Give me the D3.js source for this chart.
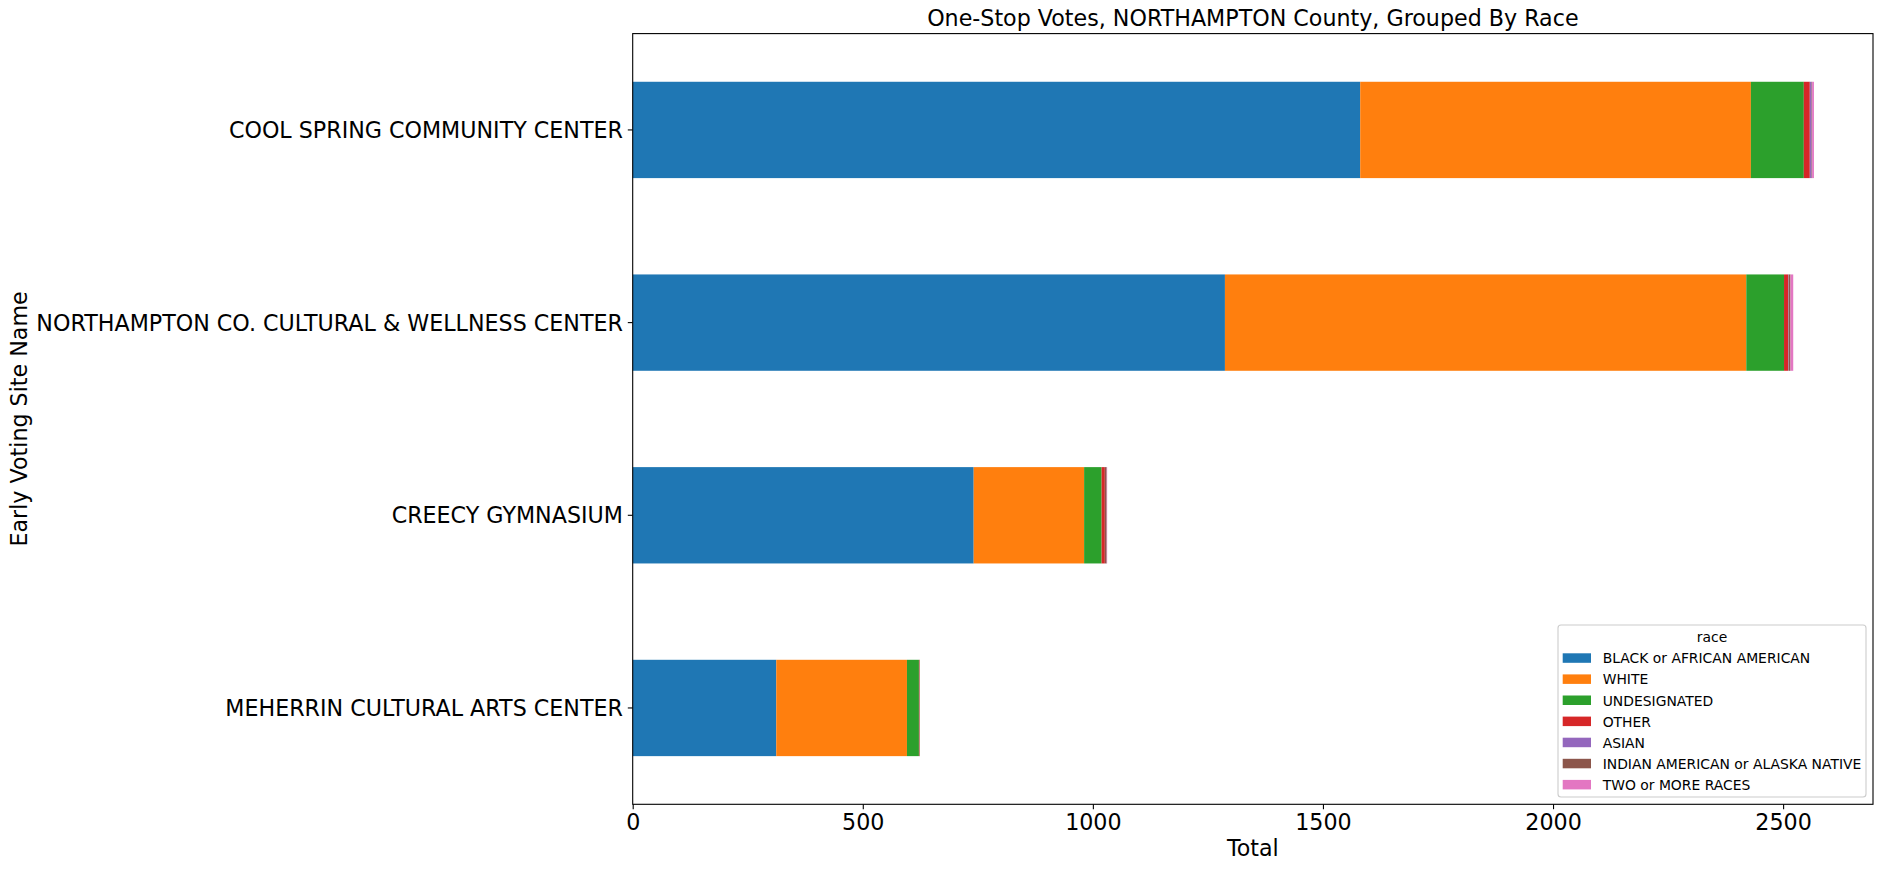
<!DOCTYPE html>
<html>
<head>
<meta charset="utf-8">
<script src="https://cdn.jsdelivr.net/npm/d3@7"></script>
<style>
  html, body { margin: 0; padding: 0; background: #fff; }
  svg { display: block; font-family: "DejaVu Sans", sans-serif; }
</style>
</head>
<body>
<svg id="chart" width="1882" height="869"></svg>
<script>
// ---- Data ----
const sites = [
  "COOL SPRING COMMUNITY CENTER",
  "NORTHAMPTON CO. CULTURAL & WELLNESS CENTER",
  "CREECY GYMNASIUM",
  "MEHERRIN CULTURAL ARTS CENTER"
];
const raceNames = [
  "BLACK or AFRICAN AMERICAN",
  "WHITE",
  "UNDESIGNATED",
  "OTHER",
  "ASIAN",
  "INDIAN AMERICAN or ALASKA NATIVE",
  "TWO or MORE RACES"
];
const blackVotes        = [1581, 1287, 741, 312];
const whiteVotes        = [849, 1133, 240, 284];
const undesignatedVotes = [115, 82, 38, 26];
const otherVotes        = [13, 9, 7, 1];
const asianVotes        = [4, 1, 0, 0];
const indianVotes       = [1, 4, 4, 1];
const twoOrMoreVotes    = [4, 6, 1, 0];
const xTickValues = [0, 500, 1000, 1500, 2000, 2500];

const colors = ["#1f77b4", "#ff7f0e", "#2ca02c", "#d62728", "#9467bd", "#8c564b", "#e377c2"];

const seriesValues = [blackVotes, whiteVotes, undesignatedVotes, otherVotes, asianVotes, indianVotes, twoOrMoreVotes];
const rows = sites.map((s, i) => {
  const r = { site: s };
  raceNames.forEach((rn, k) => { r[rn] = seriesValues[k][i]; });
  return r;
});

// ---- Layout ----
const M = { left: 632.7, right: 1873, top: 33.6, bottom: 804.3 };
const svg = d3.select("#chart");

const totals = rows.map(r => d3.sum(raceNames, k => r[k]));
const xMax = d3.max(totals) * 1.05;
const x = d3.scaleLinear().domain([0, xMax]).range([M.left, M.right]);
const y = d3.scaleBand().domain(sites).range([M.top, M.bottom]).paddingInner(0.5).paddingOuter(0.25);

const stack = d3.stack().keys(raceNames)(rows);

const g = svg.append("g");
g.selectAll("g.series").data(stack).join("g")
  .attr("class", "series")
  .attr("fill", (d, i) => colors[i])
  .selectAll("rect").data(d => d).join("rect")
  .attr("x", d => x(d[0]))
  .attr("width", d => Math.max(0, x(d[1]) - x(d[0])))
  .attr("y", d => y(d.data.site))
  .attr("height", y.bandwidth());

// ---- Axes ----
const fs = "22.2px";
const xAxis = d3.axisBottom(x).tickValues(xTickValues).tickSize(4.9).tickPadding(4.9).tickFormat(d3.format("d"));
const gx = svg.append("g").attr("transform", `translate(0,${M.bottom})`).call(xAxis);
const yAxis = d3.axisLeft(y).tickSize(4.9).tickPadding(4.9);
const gy = svg.append("g").attr("transform", `translate(${M.left},0)`).call(yAxis);
[gx, gy].forEach(a => {
  a.select(".domain").remove();
  a.selectAll(".tick line").attr("stroke", "#000").attr("stroke-width", 1.1);
  a.selectAll(".tick text").attr("fill", "#000").style("font-size", fs).style("font-family", "DejaVu Sans");
});
gy.selectAll(".tick text").attr("dy", "0.36em");

// frame
svg.append("rect")
  .attr("x", M.left).attr("y", M.top)
  .attr("width", M.right - M.left).attr("height", M.bottom - M.top)
  .attr("fill", "none").attr("stroke", "#000").attr("stroke-width", 1.1);

// ---- Titles ----
svg.append("text")
  .attr("x", (M.left + M.right) / 2).attr("y", 26)
  .attr("text-anchor", "middle").style("font-size", fs)
  .text("One-Stop Votes, NORTHAMPTON County, Grouped By Race");
svg.append("text")
  .attr("x", (M.left + M.right) / 2).attr("y", 856)
  .attr("text-anchor", "middle").style("font-size", fs)
  .text("Total");
svg.append("text")
  .attr("transform", `translate(26.5,${(M.top + M.bottom) / 2}) rotate(-90)`)
  .attr("text-anchor", "middle").style("font-size", fs)
  .text("Early Voting Site Name");

// ---- Legend ----
const L = { x: 1558, y: 625, w: 308, h: 172 };
const lg = svg.append("g");
lg.append("rect")
  .attr("x", L.x).attr("y", L.y).attr("width", L.w).attr("height", L.h)
  .attr("rx", 3).attr("ry", 3)
  .attr("fill", "#fff").attr("fill-opacity", 0.8)
  .attr("stroke", "#cccccc").attr("stroke-width", 1.1);
lg.append("text")
  .attr("x", L.x + L.w / 2).attr("y", 641.7)
  .attr("text-anchor", "middle").style("font-size", "13.9px")
  .text("race");
const rowStep = 21.1;
raceNames.forEach((rn, i) => {
  const by = 663.3 + i * rowStep;
  lg.append("rect")
    .attr("x", 1562.7).attr("y", by - 10).attr("width", 28.3).attr("height", 9.5)
    .attr("fill", colors[i]);
  lg.append("text")
    .attr("x", 1602.7).attr("y", by)
    .style("font-size", "13.9px")
    .text(rn);
});
</script>
</body>
</html>
